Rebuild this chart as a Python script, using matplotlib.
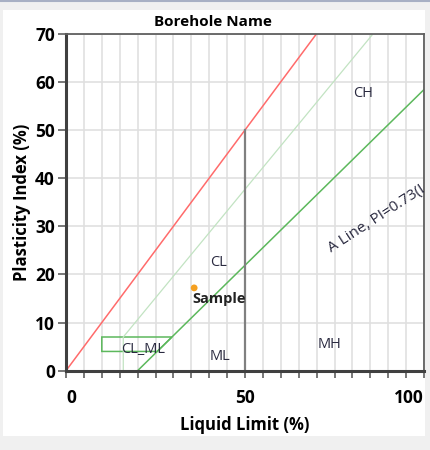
import matplotlib
matplotlib.use("Agg")
import matplotlib.pyplot as plt
from matplotlib.patches import Rectangle, Polygon
from matplotlib.lines import Line2D

plt.rcParams['font.family'] = ['Open Sans', 'DejaVu Sans']

# chart lines (liquid limit, plasticity index)
u_line_ll = [16, 16, 85.8]
u_line_pi = [0, 7, 70]
a_line_ll = [20, 100]
a_line_pi = [0, 58.4]
diag_ll = [0, 70]
diag_pi = [0, 70]
ll50_ll = [50, 50]
ll50_pi = [0, 50]
clml_ll = [10, 10, 29.6, 25.5]
clml_pi = [4, 7, 7, 4]

# sample
sample_ll = [35.8]
sample_pi = [17.2]
sample_names = ["Sample"]

# zone labels
zone_names = ["CL", "CH", "MH", "ML", "CL_ML"]
zone_ll = [42.5, 83, 73.5, 43, 21.5]
zone_pi = [22.5, 57.5, 5.5, 3, 4.5]

x_ticks = [0, 50, 100]
x_minor = list(range(0, 101, 5))
y_ticks = [0, 10, 20, 30, 40, 50, 60, 70]

fig = plt.figure(figsize=(4.3, 4.5), dpi=100)
fig.patch.set_facecolor('#f0f0f0')

# white panel and top border
fig.patches.append(Rectangle((3 / 430, 14 / 450), 422 / 430, 426 / 450,
                             transform=fig.transFigure, facecolor='white',
                             edgecolor='none', zorder=-10))
fig.lines.append(Line2D([0, 1], [1 - 1 / 450, 1 - 1 / 450], transform=fig.transFigure,
                        color='#a8b0c4', linewidth=1.5, zorder=-10))

ax = fig.add_axes([66 / 430, 1 - 370.7 / 450, 358 / 430, 337 / 450])
ax.set_facecolor('white')
ax.set_xlim(0, 100)
ax.set_ylim(0, 70)

# grid
ax.set_xticks(x_minor, minor=True)
ax.set_xticks(x_ticks)
ax.set_yticks(y_ticks)
ax.grid(True, which='both', axis='x', color='#e0e0e0', linewidth=1.2)
ax.grid(True, which='major', axis='y', color='#e0e0e0', linewidth=1.2)
ax.set_axisbelow(True)

ax.plot(diag_ll, diag_pi, color='#ff6b6b', linewidth=1.1)
ax.plot(u_line_ll, u_line_pi, color='#c2e3c2', linewidth=0.9)
ax.plot(a_line_ll, a_line_pi, color='#5cb85c', linewidth=1.1)
ax.plot(ll50_ll, ll50_pi, color='#808080', linewidth=1.6)
ax.add_patch(Polygon(list(zip(clml_ll, clml_pi)), closed=True, fill=False,
                     edgecolor='#5cb85c', linewidth=1.1))

ax.scatter(sample_ll, sample_pi, s=24, color='#f5a020', zorder=5, edgecolors='none')
for x, y, name in zip(sample_ll, sample_pi, sample_names):
    ax.text(x - 0.6, y - 0.8, name, fontsize=10.5, fontweight='bold', color='#222222',
            ha='left', va='top')

for x, y, name in zip(zone_ll, zone_pi, zone_names):
    ax.text(x, y, name, fontsize=10.5, color='#2a2a40', ha='center', va='center')

ax.text(74, 24.5, "A Line, PI=0.73(LL-20)", fontsize=11, color='#2a2a40',
        rotation=33, rotation_mode='anchor', ha='left', va='baseline', clip_on=True)

# spines
for s in ['left', 'bottom']:
    ax.spines[s].set_color('#404040')
    ax.spines[s].set_linewidth(2.2)
for s in ['top', 'right']:
    ax.spines[s].set_color('#606060')
    ax.spines[s].set_linewidth(1.3)

ax.tick_params(axis='x', which='both', direction='out', length=5, width=1.2,
               color='#606060', labelsize=12.5, pad=8)
ax.tick_params(axis='y', which='both', direction='out', length=6, width=1.2,
               color='#606060', labelsize=12.5, pad=2)
for lbl in ax.get_xticklabels() + ax.get_yticklabels():
    lbl.set_fontweight('bold')
xl = ax.get_xticklabels()
xl[0].set_horizontalalignment('left')
xl[-1].set_horizontalalignment('right')

ax.set_xlabel("Liquid Limit (%)", fontsize=12, fontweight='bold', labelpad=7)
ax.set_ylabel("Plasticity Index (%)", fontsize=12, fontweight='bold', labelpad=3)
fig.text(213 / 430, 1 - 22 / 450, "Borehole Name", fontsize=11, fontweight='bold',
         ha='center', va='center')

fig.savefig("out.png", dpi=100, facecolor=fig.get_facecolor())
